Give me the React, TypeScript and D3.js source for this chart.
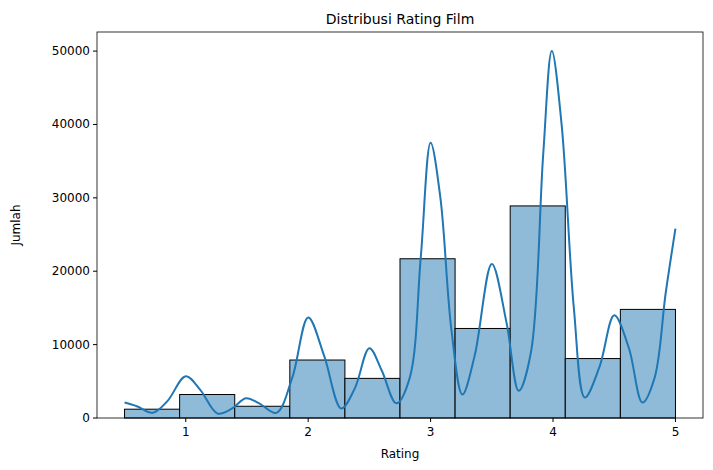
import React from "react";
import * as d3 from "d3";

const binEdges = [0.5, 0.95, 1.4, 1.85, 2.3, 2.75, 3.2, 3.65, 4.1, 4.55, 5.0];
const binCounts = [1200, 3200, 1600, 7900, 5400, 21700, 12200, 28900, 8100, 14800];
const kdeX = [0.5, 0.6, 0.73, 0.85, 1.0, 1.12, 1.26, 1.38, 1.49, 1.6, 1.74, 1.87, 2.0, 2.13, 2.27, 2.38, 2.5, 2.6, 2.72, 2.83, 2.92, 3.0, 3.08, 3.17, 3.26, 3.36, 3.5, 3.62, 3.72, 3.82, 3.92, 3.99, 4.07, 4.17, 4.26, 4.38, 4.5, 4.62, 4.73, 4.83, 4.92, 5.0];
const kdeY = [2100, 1600, 700, 2300, 5700, 3800, 600, 1300, 2700, 2000, 700, 5500, 13700, 8500, 1300, 4000, 9500, 6500, 2000, 5500, 22000, 37500, 30000, 12000, 3200, 8500, 21000, 13000, 3700, 9000, 36000, 50000, 40000, 15000, 2800, 7000, 14000, 9500, 2100, 5500, 17000, 25800];
const xTicks = [1, 2, 3, 4, 5];
const yTicks = [0, 10000, 20000, 30000, 40000, 50000];

export default function App() {
  const W = 713, H = 470;
  const m = { l: 97, r: 703, t: 32, b: 418 };
  const x = d3.scaleLinear().domain([0.275, 5.225]).range([m.l, m.r]);
  const y = d3.scaleLinear().domain([0, 52600]).range([m.b, m.t]);
  const line = d3.line<number>().x((_, i) => x(kdeX[i])).y((d) => y(d)).curve(d3.curveCatmullRom.alpha(0.5));
  const font = "DejaVu Sans";
  return (
    <svg width={W} height={H} style={{ position: "absolute", left: 0, top: 0 }} fontFamily={font}>
      <rect width={W} height={H} fill="white" />
      {binCounts.map((c, i) => (
        <rect key={i} x={x(binEdges[i])} y={y(c)} width={x(binEdges[i + 1]) - x(binEdges[i])} height={y(0) - y(c)}
          fill="#8fbbd9" stroke="black" strokeWidth={1} />
      ))}
      <path d={line(kdeY) || ""} fill="none" stroke="#1f77b4" strokeWidth={2} />
      <rect x={m.l} y={m.t} width={m.r - m.l} height={m.b - m.t} fill="none" stroke="black" strokeWidth={0.8} />
      {xTicks.map((t) => (
        <g key={t}>
          <line x1={x(t)} x2={x(t)} y1={m.b} y2={m.b + 4} stroke="black" />
          <text x={x(t)} y={m.b + 18} fontSize={12} textAnchor="middle">{t}</text>
        </g>
      ))}
      {yTicks.map((t) => (
        <g key={t}>
          <line x1={m.l - 4} x2={m.l} y1={y(t)} y2={y(t)} stroke="black" />
          <text x={m.l - 7} y={y(t) + 4} fontSize={12} textAnchor="end">{t}</text>
        </g>
      ))}
      <text x={(m.l + m.r) / 2} y={458} fontSize={12} textAnchor="middle">Rating</text>
      <text transform={`translate(20,${(m.t + m.b) / 2}) rotate(-90)`} fontSize={12} textAnchor="middle">Jumlah</text>
      <text x={(m.l + m.r) / 2} y={24} fontSize={14} textAnchor="middle">Distribusi Rating Film</text>
    </svg>
  );
}
